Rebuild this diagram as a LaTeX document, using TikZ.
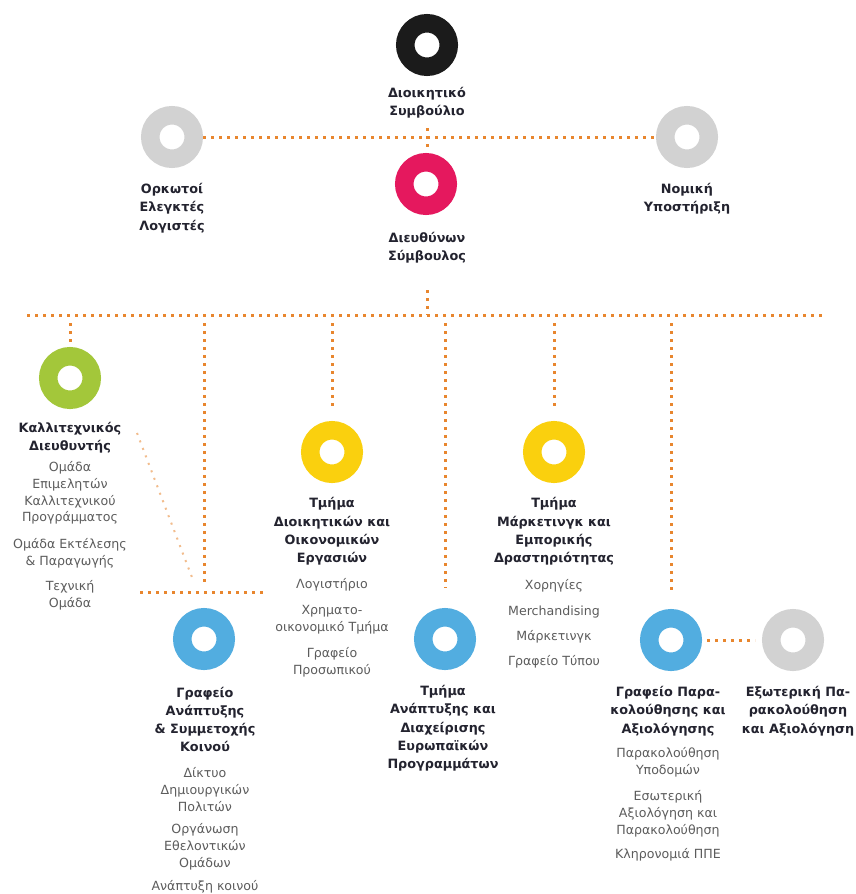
\documentclass[tikz,border=0pt]{standalone}
\usepackage{fontspec}
\setmainfont{DejaVu Sans}
\definecolor{blackc}{HTML}{1B1B1B}
\definecolor{grayc}{HTML}{D2D2D2}
\definecolor{pinkc}{HTML}{E5185E}
\definecolor{greenc}{HTML}{A3C73A}
\definecolor{yellowc}{HTML}{FAD00E}
\definecolor{bluec}{HTML}{52ADE0}
\definecolor{dotc}{HTML}{E8862E}
\definecolor{headc}{HTML}{23232F}
\definecolor{itemc}{HTML}{5C5C5C}
\begin{document}
\begin{tikzpicture}[x=1pt,y=-1pt,
 ring/.style={circle, draw=#1, line width=18.5pt, minimum size=43.5pt, inner sep=0pt},
 link/.style={draw=dotc, line width=3pt, dash pattern=on 3pt off 5pt},
 faint/.style={draw=dotc!55, line width=2pt, dash pattern=on 2pt off 6pt},
 head/.style={align=center, text=headc, font=\fontsize{12.8}{18.3}\selectfont\bfseries, inner sep=0pt},
 item/.style={align=center, text=itemc, font=\fontsize{12.6}{16.8}\selectfont, inner sep=0pt},
]
\fill[white] (0,0) rectangle (856,894);
\useasboundingbox (0,0) rectangle (856,894);

% rings
\node[ring=blackc]  (board)    at (427,45)  {};
\node[ring=grayc]   (audit)    at (172,137) {};
\node[ring=grayc]   (legal)    at (687,137) {};
\node[ring=pinkc]   (ceo)      at (426,184) {};
\node[ring=greenc]  (art)      at (70,378)  {};
\node[ring=yellowc] (admin)    at (332,452) {};
\node[ring=yellowc] (mkt)      at (554,452) {};
\node[ring=bluec]   (audience) at (204,639) {};
\node[ring=bluec]   (eu)       at (445,639) {};
\node[ring=bluec]   (mon)      at (671,640) {};
\node[ring=grayc]   (ext)      at (793,640) {};

% titles
\node[head] (boardT) at (427,103) {Διοικητικό\\Συμβούλιο};
\node[head] (auditT) at (172,208) {Ορκωτοί\\Ελεγκτές\\Λογιστές};
\node[head] (legalT) at (687,199) {Νομική\\Υποστήριξη};
\node[head] (ceoT)   at (427,247.5) {Διευθύνων\\Σύμβουλος};
\node[head] (artT)   at (70,437.5) {Καλλιτεχνικός\\Διευθυντής};
\node[head] (adminT) at (332,531.5) {Τμήμα\\Διοικητικών και\\Οικονομικών\\Εργασιών};
\node[head] (mktT)   at (554,531.5) {Τμήμα\\Μάρκετινγκ και\\Εμπορικής\\Δραστηριότητας};
\node[head] (audT)   at (205,719.5) {Γραφείο\\Ανάπτυξης\\\& Συμμετοχής\\Κοινού};
\node[head] (euT)    at (443,728.5) {Τμήμα\\Ανάπτυξης και\\Διαχείρισης\\Ευρωπαϊκών\\Προγραμμάτων};
\node[head] (monT)   at (668,711) {Γραφείο Παρα-\\κολούθησης και\\Αξιολόγησης};
\node[head] (extT)   at (798,711) {Εξωτερική Πα-\\ρακολούθηση\\και Αξιολόγηση};

% items
\node[item] (artI1) at (70,493) {Ομάδα\\Επιμελητών\\Καλλιτεχνικού\\Προγράμματος};
\node[item] (artI2) at (70,553.5) {Ομάδα Εκτέλεσης\\\& Παραγωγής};
\node[item] (artI3) at (70,595) {Τεχνική\\Ομάδα};
\node[item] (adminI1) at (332,585) {Λογιστήριο};
\node[item] (adminI2) at (332,620) {Χρηματο-\\οικονομικό Τμήμα};
\node[item] (adminI3) at (332,662.5) {Γραφείο\\Προσωπικού};
\node[item] (mktI1) at (554,586) {Χορηγίες};
\node[item] (mktI2) at (554,612) {Merchandising};
\node[item] (mktI3) at (554,637) {Μάρκετινγκ};
\node[item] (mktI4) at (554,662) {Γραφείο Τύπου};
\node[item] (audI1) at (205,789.5) {Δίκτυο\\Δημιουργικών\\Πολιτών};
\node[item] (audI2) at (205,846.5) {Οργάνωση\\Εθελοντικών\\Ομάδων};
\node[item] (audI3) at (205,886.5) {Ανάπτυξη κοινού};
\node[item] (monI1) at (668,762.5) {Παρακολούθηση\\Υποδομών};
\node[item] (monI2) at (668,813.5) {Εσωτερική\\Αξιολόγηση και\\Παρακολούθηση};
\node[item] (monI3) at (668,855) {Κληρονομιά ΠΠΕ};

% coordinates
\coordinate (busL) at (27,315);
\coordinate (busR) at (825,315);
\coordinate (busC) at (427,315);
\coordinate (ceoStub) at (427,290);
\coordinate (tickA) at (427,128);
\coordinate (tickB) at (427,148);
\coordinate (audJ) at (204,592);
\coordinate (diagA) at (137,433);
\coordinate (diagB) at (193,580);

% connectors
\draw[link] (audit) -- (legal);
\draw[link] (tickA) -- (tickB);
\draw[link] (ceoStub) -- (busC);
\draw[link] (busL) -- (busR);
\draw[link] ([yshift=-8pt]art.north |- busC) -- ([yshift=5pt]art.north);
\draw[link] ([yshift=-8pt]audJ |- busC) -- ([yshift=9pt]audJ);
\draw[link] ([xshift=-64pt]audJ) -- ([xshift=63pt]audJ);
\draw[link] ([yshift=-8pt]admin.north |- busC) -- ([yshift=13pt]admin.north);
\draw[link] ([yshift=-8pt]mkt.north |- busC) -- ([yshift=14pt]mkt.north);
\draw[link] ([yshift=-8pt]eu.north |- busC) -- ([yshift=20pt]eu.north);
\draw[link] ([yshift=-8pt]mon.north |- busC) -- ([yshift=19pt]mon.north);
\draw[link, shorten <=5pt, shorten >=7pt] (mon) -- (ext);
\draw[faint] (diagA) -- (diagB);
\end{tikzpicture}
\end{document}
